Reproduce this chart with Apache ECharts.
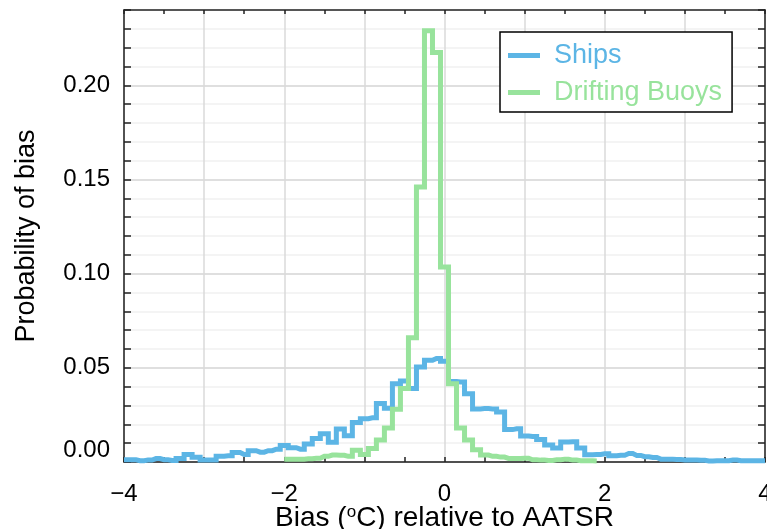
<!DOCTYPE html>
<html><head><meta charset="utf-8">
<script src="https://cdn.jsdelivr.net/npm/echarts@6/dist/echarts.min.js"></script>
<style>html,body{margin:0;padding:0;background:#fff}#chart{width:767px;height:529px}</style>
</head><body><div id="chart"></div>
<script>
// Bin centres (°C) and probabilities
const shipBins = [-4.0,-3.9,-3.8,-3.7,-3.6,-3.5,-3.4,-3.3,-3.2,-3.1,-3.0,-2.9,-2.8,-2.7,-2.6,-2.5,-2.4,-2.3,-2.2,-2.1,
  -2.0,-1.9,-1.8,-1.7,-1.6,-1.5,-1.4,-1.3,-1.2,-1.1,-1.0,-0.9,-0.8,-0.7,-0.6,-0.5,-0.4,-0.3,-0.2,-0.1,
  0.0,0.1,0.2,0.3,0.4,0.5,0.6,0.7,0.8,0.9,1.0,1.1,1.2,1.3,1.4,1.5,1.6,1.7,1.8,1.9,
  2.0,2.1,2.2,2.3,2.4,2.5,2.6,2.7,2.8,2.9,3.0,3.1,3.2,3.3,3.4,3.5,3.6,3.7,3.8,3.9,4.0];
const shipValues = [0.0012,0.0012,0.0007,0.0010,0.0018,0.0012,0.0008,0.0019,0.0040,0.0025,0.0011,0.0011,0.0030,0.0033,0.0050,0.0040,0.0060,0.0052,0.0060,0.0068,
  0.0088,0.0076,0.0068,0.0095,0.0125,0.0150,0.0105,0.0175,0.0140,0.0210,0.0230,0.0235,0.0310,0.0285,0.0415,0.0430,0.0390,0.0505,0.0540,0.0550,
  0.0535,0.0428,0.0425,0.0362,0.0282,0.0284,0.0282,0.0265,0.0172,0.0176,0.0138,0.0135,0.0120,0.0090,0.0074,0.0106,0.0108,0.0074,0.0038,0.0040,
  0.0044,0.0033,0.0036,0.0045,0.0035,0.0028,0.0024,0.0015,0.0014,0.0013,0.0011,0.0011,0.0009,0.0005,0.0006,0.0007,0.0011,0.0007,0.0007,0.0006,0.0007];
const buoyBins = [-2.0,-1.9,-1.8,-1.7,-1.6,-1.5,-1.4,-1.3,-1.2,-1.1,-1.0,-0.9,-0.8,-0.7,-0.6,-0.5,-0.4,-0.3,-0.2,-0.1,
  0.0,0.1,0.2,0.3,0.4,0.5,0.6,0.7,0.8,0.9,1.0,1.1,1.2,1.3,1.4,1.5,1.6,1.7,1.8,1.9];
const buoyValues = [0.0015,0.0014,0.0015,0.0017,0.0020,0.0030,0.0037,0.0036,0.0030,0.0062,0.0040,0.0072,0.0117,0.0180,0.0280,0.0390,0.0660,0.1460,0.2290,0.2175,
  0.1035,0.0415,0.0180,0.0117,0.0065,0.0037,0.0030,0.0026,0.0019,0.0018,0.0020,0.0012,0.0010,0.0008,0.0012,0.0014,0.0010,0.0007,0.0006,0.0005];
const seriesNames = ['Ships', 'Drifting Buoys'];
const xTickValues = [-4, -2, 0, 2, 4];
const xTickLabels = ['\u22124', '\u22122', '0', '2', '4'];
const yTickValues = [0, 0.05, 0.10, 0.15, 0.20];
const yTickLabels = ['0.00', '0.05', '0.10', '0.15', '0.20'];

const BLUE = '#5cb5e5', GREEN = '#98e39c', FONT = 'Liberation Sans';
const find = (vals, v) => vals.findIndex(t => Math.abs(t - v) < 1e-6);
const xFmt = v => { const i = find(xTickValues, v); return i >= 0 ? xTickLabels[i] : ''; };
const yFmt = v => { const i = find(yTickValues, v); return i < 0 ? '' : (i === 0 ? '{m|' + yTickLabels[i] + '}' : yTickLabels[i]); };
const pairs = (xs, ys) => xs.map((x, i) => [x, ys[i]]);

const chart = echarts.init(document.getElementById('chart'), null, { renderer: 'canvas' });
const axisLine = { show: true, onZero: false, lineStyle: { color: '#222', width: 1.5 } };
chart.setOption({
  animation: false,
  backgroundColor: '#fff',
  grid: { left: 124, right: 2, top: 10, bottom: 67, containLabel: false, outerBoundsMode: 'none' },
  xAxis: [{
    type: 'value', min: -4, max: 4, interval: 0.5, position: 'bottom',
    axisLine, axisTick: { show: true, inside: true, length: 5, lineStyle: { color: '#222', width: 1.5 } },
    axisLabel: { formatter: xFmt, fontSize: 24, fontFamily: FONT, color: '#000', margin: 20 },
    splitLine: { show: true, lineStyle: { color: ['#dadada', 'rgba(0,0,0,0)'], width: 1.5 } },
    name: '{a|Bias (}{s|o}{a|C) relative to AATSR}', nameLocation: 'middle', nameGap: 42, nameMoveOverlap: false,
    nameTextStyle: { rich: { a: { fontSize: 28, fontFamily: FONT, color: '#000' }, s: { fontSize: 17, fontFamily: FONT, color: '#000', padding: [0, 0, 12, 0] } } }
  }, {
    type: 'value', min: -4, max: 4, interval: 0.5, position: 'top',
    axisLine, axisTick: { show: true, inside: true, length: 4, lineStyle: { color: '#222', width: 1.5 } },
    axisLabel: { show: false }, splitLine: { show: false }
  }],
  yAxis: [{
    type: 'value', min: 0, max: 0.24, interval: 0.01, position: 'left',
    axisLine, axisTick: { show: true, inside: true, length: 7, lineStyle: { color: '#222', width: 1.5 } },
    axisLabel: { formatter: yFmt, fontSize: 24, fontFamily: FONT, color: '#000', margin: 14,
      rich: { m: { fontSize: 24, fontFamily: FONT, color: '#000', padding: [0, 0, 24, 0] } } },
    splitLine: { show: true, lineStyle: { color: ['#d4d4d4', '#f0f0f0', '#f0f0f0', '#f0f0f0', '#f0f0f0'], width: 1.5 } },
    name: 'Probability of bias', nameLocation: 'middle', nameRotate: 90, nameGap: 84, nameMoveOverlap: false,
    nameTextStyle: { fontSize: 27, fontFamily: FONT, color: '#000' }
  }, {
    type: 'value', min: 0, max: 0.24, interval: 0.01, position: 'right',
    axisLine, axisTick: { show: true, inside: true, length: 7, lineStyle: { color: '#222', width: 1.5 } },
    axisLabel: { show: false }, splitLine: { show: false }
  }],
  legend: {
    orient: 'vertical', left: 500, top: 32, padding: [10, 10, 6, 8], itemGap: 10,
    itemWidth: 32, itemHeight: 5, icon: 'rect',
    borderColor: '#000', borderWidth: 1.5, backgroundColor: '#fff',
    textStyle: { fontSize: 27, fontFamily: FONT, padding: [0, 0, 0, 9], width: 183 },
    data: [{ name: seriesNames[0], textStyle: { color: BLUE } }, { name: seriesNames[1], textStyle: { color: GREEN } }]
  },
  series: [
    { name: seriesNames[0], type: 'line', step: 'middle', data: pairs(shipBins, shipValues), color: BLUE,
      showSymbol: false, clip: false, lineStyle: { width: 5, color: BLUE, join: 'miter', cap: 'butt' } },
    { name: seriesNames[1], type: 'line', step: 'middle', data: pairs(buoyBins, buoyValues), color: GREEN,
      showSymbol: false, clip: false, lineStyle: { width: 5, color: GREEN, join: 'miter', cap: 'butt' } }
  ]
});
</script></body></html>
